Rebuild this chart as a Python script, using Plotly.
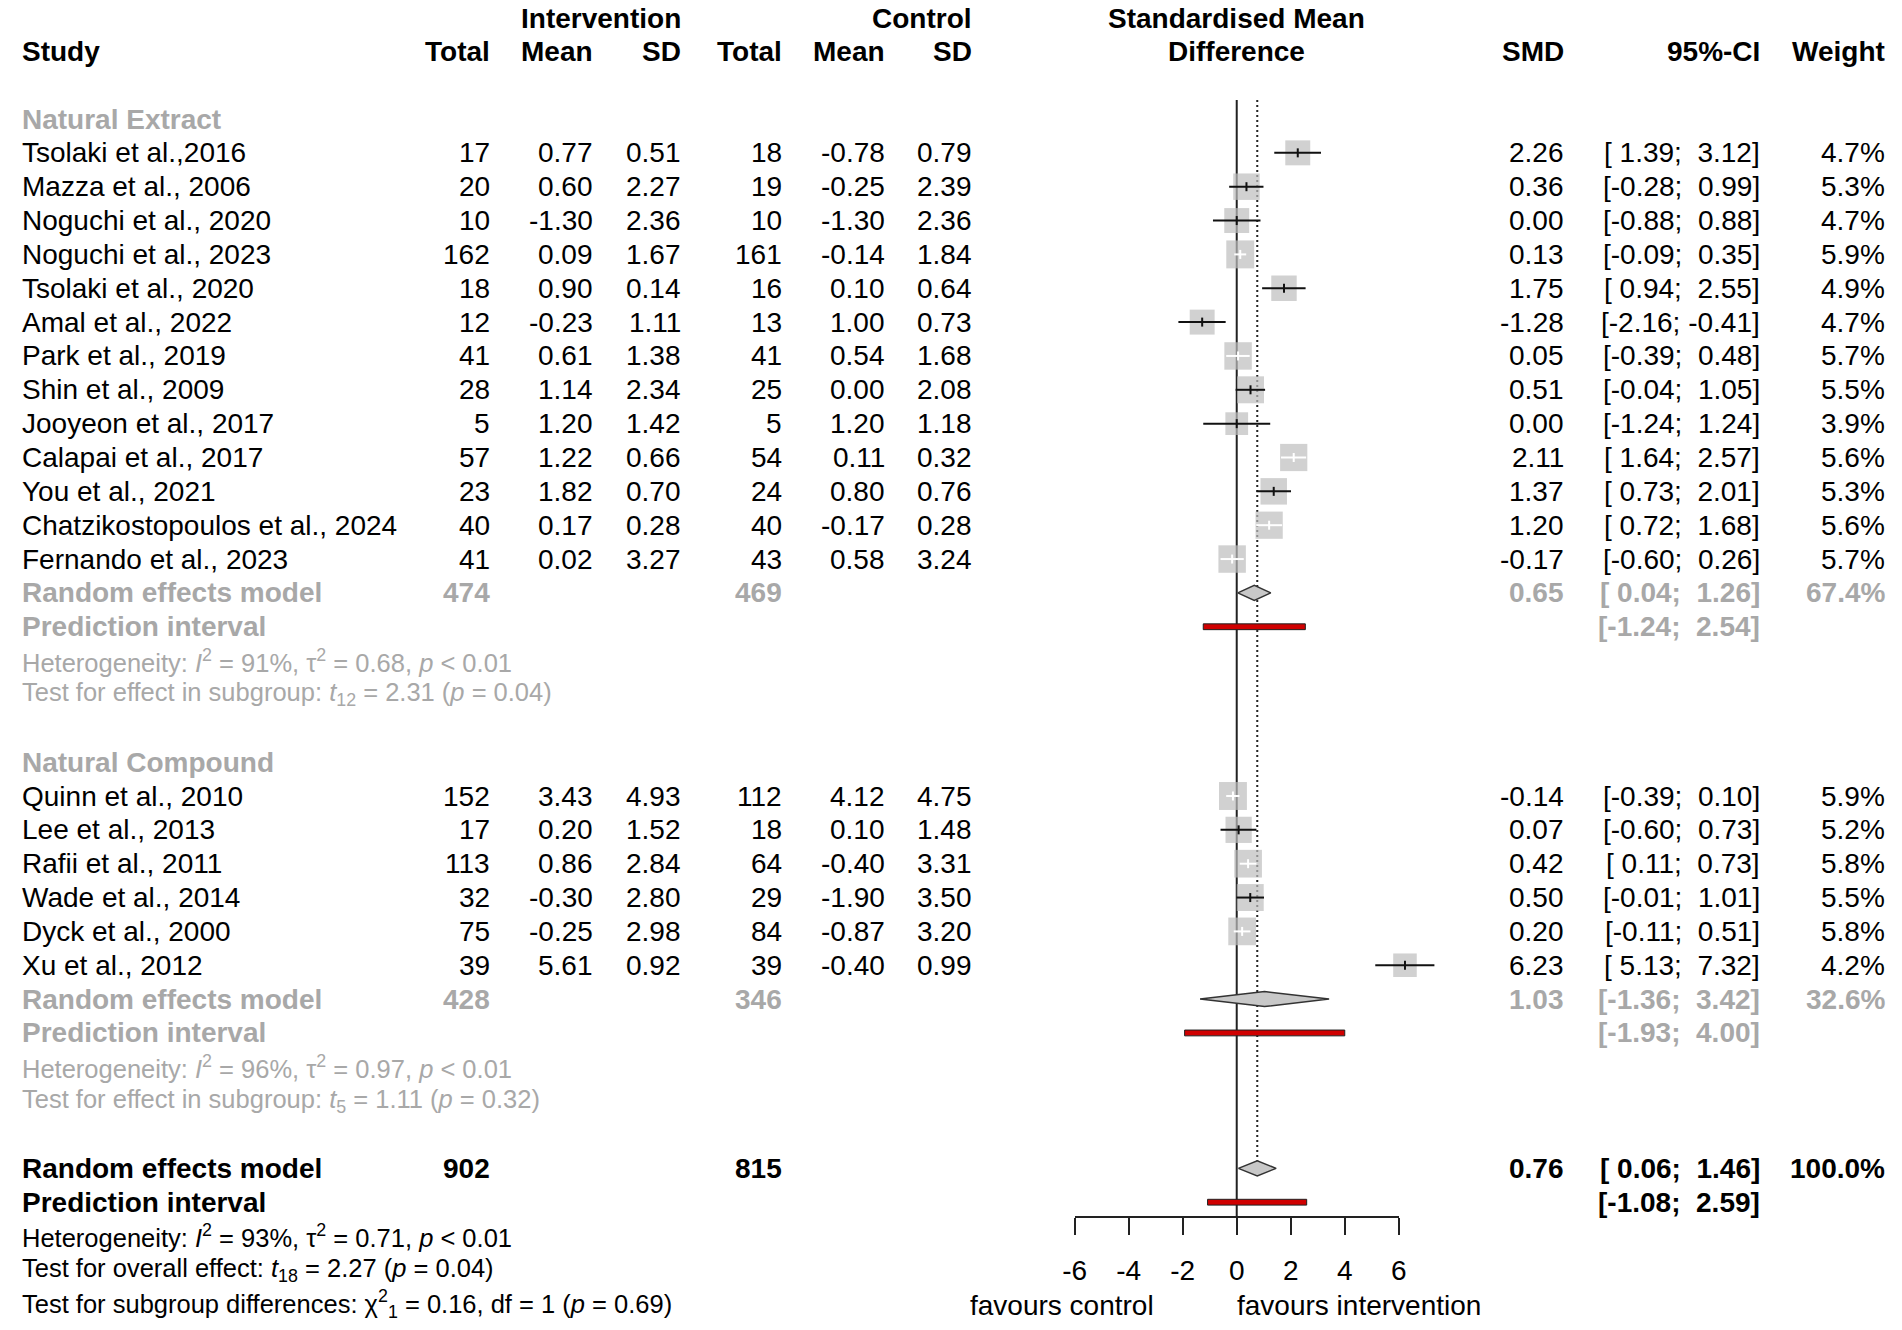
import math
import plotly.graph_objects as go

# ---------------- data ----------------
group_names = ["Natural Extract", "Natural Compound"]

ne_study = ["Tsolaki et al.,2016", "Mazza et al., 2006", "Noguchi et al., 2020", "Noguchi et al., 2023",
            "Tsolaki et al., 2020", "Amal et al., 2022", "Park et al., 2019", "Shin et al., 2009",
            "Jooyeon et al., 2017", "Calapai et al., 2017", "You et al., 2021",
            "Chatzikostopoulos et al., 2024", "Fernando et al., 2023"]
ne_n_e = [17, 20, 10, 162, 18, 12, 41, 28, 5, 57, 23, 40, 41]
ne_mean_e = [0.77, 0.60, -1.30, 0.09, 0.90, -0.23, 0.61, 1.14, 1.20, 1.22, 1.82, 0.17, 0.02]
ne_sd_e = [0.51, 2.27, 2.36, 1.67, 0.14, 1.11, 1.38, 2.34, 1.42, 0.66, 0.70, 0.28, 3.27]
ne_n_c = [18, 19, 10, 161, 16, 13, 41, 25, 5, 54, 24, 40, 43]
ne_mean_c = [-0.78, -0.25, -1.30, -0.14, 0.10, 1.00, 0.54, 0.00, 1.20, 0.11, 0.80, -0.17, 0.58]
ne_sd_c = [0.79, 2.39, 2.36, 1.84, 0.64, 0.73, 1.68, 2.08, 1.18, 0.32, 0.76, 0.28, 3.24]
ne_smd = [2.26, 0.36, 0.00, 0.13, 1.75, -1.28, 0.05, 0.51, 0.00, 2.11, 1.37, 1.20, -0.17]
ne_lo = [1.39, -0.28, -0.88, -0.09, 0.94, -2.16, -0.39, -0.04, -1.24, 1.64, 0.73, 0.72, -0.60]
ne_hi = [3.12, 0.99, 0.88, 0.35, 2.55, -0.41, 0.48, 1.05, 1.24, 2.57, 2.01, 1.68, 0.26]
ne_w = [4.7, 5.3, 4.7, 5.9, 4.9, 4.7, 5.7, 5.5, 3.9, 5.6, 5.3, 5.6, 5.7]

nc_study = ["Quinn et al., 2010", "Lee et al., 2013", "Rafii et al., 2011", "Wade et al., 2014",
            "Dyck et al., 2000", "Xu et al., 2012"]
nc_n_e = [152, 17, 113, 32, 75, 39]
nc_mean_e = [3.43, 0.20, 0.86, -0.30, -0.25, 5.61]
nc_sd_e = [4.93, 1.52, 2.84, 2.80, 2.98, 0.92]
nc_n_c = [112, 18, 64, 29, 84, 39]
nc_mean_c = [4.12, 0.10, -0.40, -1.90, -0.87, -0.40]
nc_sd_c = [4.75, 1.48, 3.31, 3.50, 3.20, 0.99]
nc_smd = [-0.14, 0.07, 0.42, 0.50, 0.20, 6.23]
nc_lo = [-0.39, -0.60, 0.11, -0.01, -0.11, 5.13]
nc_hi = [0.10, 0.73, 0.73, 1.01, 0.51, 7.32]
nc_w = [5.9, 5.2, 5.8, 5.5, 5.8, 4.2]

# pooled results: [Natural Extract, Natural Compound, overall]
pooled_n_e = [474, 428, 902]
pooled_n_c = [469, 346, 815]
pooled_smd = [0.65, 1.03, 0.76]
pooled_lo = [0.04, -1.36, 0.06]
pooled_hi = [1.26, 3.42, 1.46]
pooled_w = [67.4, 32.6, 100.0]
pi_lo = [-1.24, -1.93, -1.08]
pi_hi = [2.54, 4.00, 2.59]
het_i2 = [91, 96, 93]
het_tau2 = [0.68, 0.97, 0.71]
test_df = [12, 5, 18]
test_t = [2.31, 1.11, 2.27]
test_p = [0.04, 0.32, 0.04]
subgroup_chi2, subgroup_df, subgroup_p = 0.16, 1, 0.69

tick_vals = [-6, -4, -2, 0, 2, 4, 6]
tick_text = ["-6", "-4", "-2", "0", "2", "4", "6"]

# ---------------- geometry (pixels) ----------------
FONT = "Liberation Sans, Arial, sans-serif"
W, H = 1902, 1330
ROW0, ROWH = 119.0, 33.85          # pixel of row 0, pixels per row
AX_L, AX_R = 1074.0, 1401.5        # pixels of -6 and 6
AX_Y = 1217.0                      # pixel of the forest axis line
GRAY_TXT = "#A8A8A8"
SQ_COL = "#BEBEBE"
FS, FS_SMALL = 28, 25.5

unit = (AX_R - AX_L) / 12
x_lo = -6 - AX_L / unit
x_hi = 6 + (W - AX_R) / unit
y_top = -ROW0 / ROWH
y_bot = (H - ROW0) / ROWH


def row_of(px):
    return (px - ROW0) / ROWH


COL = dict(study=10, ne=483, me=587, se=676, nc=778, mc=882, sc=970, smd=1568, ci=1767, w=1893)

ann = []


def put(px, row, s, anchor="right", size=FS, color="black", bold=False):
    ann.append(dict(x=px / W, xref="paper", y=row, yref="y",
                    text=f"<b>{s}</b>" if bold else s,
                    xanchor=anchor, yanchor="middle", showarrow=False,
                    borderpad=0, borderwidth=0,
                    font=dict(family=FONT, size=size, color=color)))


def ci_str(lo, hi):
    return ("[" + f"{lo:5.2f}".replace(" ", "\u00a0") + ";\u00a0"
            + f"{hi:5.2f}".replace(" ", "\u00a0") + "]")


# headers
mid = (AX_L + AX_R) / 2
put(COL["se"], -2.97, "Intervention", bold=True)
put(COL["sc"], -2.97, "Control", bold=True)
put(mid, -2.97, "Standardised Mean", anchor="center", bold=True)
put(COL["study"], -2, "Study", anchor="left", bold=True)
for key, lab in [("ne", "Total"), ("me", "Mean"), ("se", "SD"), ("nc", "Total"), ("mc", "Mean"),
                 ("sc", "SD"), ("smd", "SMD"), ("ci", "95%-CI"), ("w", "Weight")]:
    put(COL[key], -2, lab, bold=True)
put(mid, -2, "Difference", anchor="center", bold=True)

groups = [
    (ne_study, ne_n_e, ne_mean_e, ne_sd_e, ne_n_c, ne_mean_c, ne_sd_c, ne_smd, ne_lo, ne_hi, ne_w),
    (nc_study, nc_n_e, nc_mean_e, nc_sd_e, nc_n_c, nc_mean_c, nc_sd_c, nc_smd, nc_lo, nc_hi, nc_w),
]

sq_x, sq_y, sq_s = [], [], []
seg = {"black": ([], []), "white": ([], [])}
tick_h = 4.5 / ROWH
pooled_rows = []

row = 0
for g, data in enumerate(groups):
    study, n_e, m_e, s_e, n_c, m_c, s_c, smd, lo, hi, w = data
    put(COL["study"], row, group_names[g], anchor="left", color=GRAY_TXT, bold=True)
    for i in range(len(study)):
        r = row + 1 + i
        put(COL["study"], r, study[i], anchor="left")
        put(COL["ne"], r, f"{n_e[i]}")
        put(COL["me"], r, f"{m_e[i]:.2f}")
        put(COL["se"], r, f"{s_e[i]:.2f}")
        put(COL["nc"], r, f"{n_c[i]}")
        put(COL["mc"], r, f"{m_c[i]:.2f}")
        put(COL["sc"], r, f"{s_c[i]:.2f}")
        put(COL["smd"], r, f"{smd[i]:.2f}")
        put(COL["ci"], r, ci_str(lo[i], hi[i]))
        put(COL["w"], r, f"{w[i]:.1f}%")
        # square area follows the study weight; CI drawn white when it fits inside the square
        size = 11.5 * math.sqrt(w[i])
        sq_x.append(smd[i]); sq_y.append(r); sq_s.append(size)
        c = "white" if (hi[i] - lo[i]) * unit < size else "black"
        xs, ys = seg[c]
        xs += [lo[i], hi[i], None, smd[i], smd[i], None]
        ys += [r, r, None, r - tick_h, r + tick_h, None]
    r = row + len(study) + 1
    pooled_rows.append((r, r + 1))
    put(COL["study"], r, "Random effects model", anchor="left", color=GRAY_TXT, bold=True)
    put(COL["ne"], r, f"{pooled_n_e[g]}", color=GRAY_TXT, bold=True)
    put(COL["nc"], r, f"{pooled_n_c[g]}", color=GRAY_TXT, bold=True)
    put(COL["smd"], r, f"{pooled_smd[g]:.2f}", color=GRAY_TXT, bold=True)
    put(COL["ci"], r, ci_str(pooled_lo[g], pooled_hi[g]), color=GRAY_TXT, bold=True)
    put(COL["w"], r, f"{pooled_w[g]:.1f}%", color=GRAY_TXT, bold=True)
    put(COL["study"], r + 1, "Prediction interval", anchor="left", color=GRAY_TXT, bold=True)
    put(COL["ci"], r + 1, ci_str(pi_lo[g], pi_hi[g]), color=GRAY_TXT, bold=True)
    put(COL["study"], r + 2,
        f"Heterogeneity: <i>I</i><sup>2</sup> = {het_i2[g]}%, τ<sup>2</sup> = {het_tau2[g]:.2f}, <i>p</i> &lt; 0.01",
        anchor="left", size=FS_SMALL, color=GRAY_TXT)
    put(COL["study"], r + 3,
        f"Test for effect in subgroup: <i>t</i><sub>{test_df[g]}</sub> = {test_t[g]:.2f} (<i>p</i> = {test_p[g]:.2f})",
        anchor="left", size=FS_SMALL, color=GRAY_TXT)
    row = r + 5

# overall
r = row
pooled_rows.append((r, r + 1))
put(COL["study"], r, "Random effects model", anchor="left", bold=True)
put(COL["ne"], r, f"{pooled_n_e[2]}", bold=True)
put(COL["nc"], r, f"{pooled_n_c[2]}", bold=True)
put(COL["smd"], r, f"{pooled_smd[2]:.2f}", bold=True)
put(COL["ci"], r, ci_str(pooled_lo[2], pooled_hi[2]), bold=True)
put(COL["w"], r, f"{pooled_w[2]:.1f}%", bold=True)
put(COL["study"], r + 1, "Prediction interval", anchor="left", bold=True)
put(COL["ci"], r + 1, ci_str(pi_lo[2], pi_hi[2]), bold=True)
put(COL["study"], r + 2,
    f"Heterogeneity: <i>I</i><sup>2</sup> = {het_i2[2]}%, τ<sup>2</sup> = {het_tau2[2]:.2f}, <i>p</i> &lt; 0.01",
    anchor="left", size=FS_SMALL)
put(COL["study"], r + 3,
    f"Test for overall effect: <i>t</i><sub>{test_df[2]}</sub> = {test_t[2]:.2f} (<i>p</i> = {test_p[2]:.2f})",
    anchor="left", size=FS_SMALL)
put(COL["study"], r + 4,
    f"Test for subgroup differences: χ<sup>2</sup><sub>{subgroup_df}</sub> = {subgroup_chi2:.2f}, df = {subgroup_df} (<i>p</i> = {subgroup_p:.2f})",
    anchor="left", size=FS_SMALL)

# axis side labels
put(1154, row_of(1305), "favours control", anchor="right")
put(mid, row_of(1305), "favours intervention", anchor="left")

# ---------------- figure ----------------
fig = go.Figure()
dh = 7.5 / ROWH
ph = 2.9 / ROWH
line_top = row_of(100)

# reference line (no effect) and overall estimate line
fig.add_trace(go.Scatter(x=[0, 0], y=[line_top, row_of(AX_Y)], mode="lines",
                         line=dict(color="#222222", width=2), hoverinfo="skip"))
fig.add_trace(go.Scatter(x=[pooled_smd[2]] * 2, y=[line_top, pooled_rows[2][0] - dh], mode="lines",
                         line=dict(color="#222222", width=2, dash="2px,3px"), hoverinfo="skip"))

# prediction intervals and diamonds
for k, (rr, rp) in enumerate(pooled_rows):
    fig.add_trace(go.Scatter(
        x=[pi_lo[k], pi_hi[k], pi_hi[k], pi_lo[k], pi_lo[k]],
        y=[rp - ph, rp - ph, rp + ph, rp + ph, rp - ph],
        mode="lines", fill="toself", fillcolor="#D00000",
        line=dict(color="#202020", width=1), hoverinfo="skip"))
    fig.add_trace(go.Scatter(
        x=[pooled_lo[k], pooled_smd[k], pooled_hi[k], pooled_smd[k], pooled_lo[k]],
        y=[rr, rr - dh, rr, rr + dh, rr],
        mode="lines", fill="toself", fillcolor="#C8C8C8",
        line=dict(color="#333333", width=1.5), hoverinfo="skip"))

# study squares and CIs
fig.add_trace(go.Scatter(x=sq_x, y=sq_y, mode="markers",
                         marker=dict(symbol="square", size=sq_s, color=SQ_COL, line=dict(width=0)),
                         hoverinfo="skip"))
for c, (xs, ys) in seg.items():
    fig.add_trace(go.Scatter(x=xs, y=ys, mode="lines",
                             line=dict(color="white" if c == "white" else "#111111", width=2),
                             hoverinfo="skip"))

# invisible trace carrying the forest axis
fig.add_trace(go.Scatter(x=[tick_vals[0], tick_vals[-1]], y=[row_of(AX_Y)] * 2, xaxis="x2", yaxis="y",
                         mode="markers", marker=dict(opacity=0), hoverinfo="skip"))

fig.update_layout(
    width=W, height=H,
    margin=dict(l=0, r=0, t=0, b=0),
    paper_bgcolor="white", plot_bgcolor="rgba(0,0,0,0)",
    showlegend=False,
    xaxis=dict(range=[x_lo, x_hi], visible=False, domain=[0, 1], fixedrange=True),
    yaxis=dict(range=[y_bot, y_top], visible=False, domain=[0, 1], fixedrange=True),
    xaxis2=dict(domain=[AX_L / W, AX_R / W], range=[-6, 6], anchor="free",
                position=1 - AX_Y / H,
                tickvals=tick_vals, ticktext=tick_text, ticks="outside", ticklen=17, tickwidth=2,
                tickcolor="#222222", showline=True, linewidth=2, linecolor="#222222",
                showgrid=False, zeroline=False, ticklabelstandoff=11,
                tickfont=dict(family=FONT, size=FS, color="black")),
    annotations=ann,
)

# drop the default 8px body margin so the figure sits at the page origin
fig.write_html("out.html", config={"displayModeBar": False},
               post_script="document.body.style.margin = '0px';")
